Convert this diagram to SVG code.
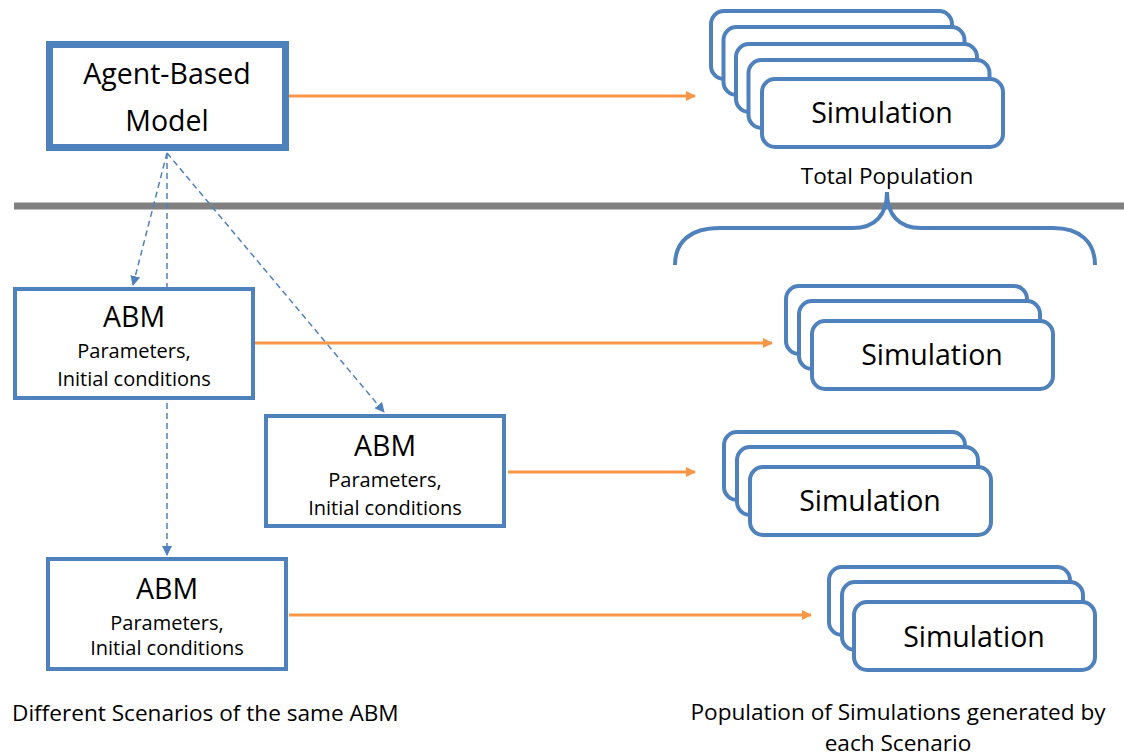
<svg xmlns="http://www.w3.org/2000/svg" width="1124" height="756" viewBox="0 0 1124 756">
  <defs>
    <style>
      text { font-family: "Open Sans", "Liberation Sans", sans-serif; fill: #000; text-anchor: middle; }
      .big { font-size: 28.5px; }
      .small { font-size: 20px; }
      .note { font-size: 22.6px; }
      .box { fill: #fff; stroke: #4F81BD; stroke-width: 4; }
      .sim { fill: #fff; stroke: #4F81BD; stroke-width: 4; }
      .flow { fill: none; stroke: #F79646; stroke-width: 3; }
      .dash { fill: none; stroke: #4F81BD; stroke-width: 1.5; stroke-dasharray: 6 4; }
    </style>
    <marker id="orangeHead" markerWidth="10" markerHeight="10" refX="9" refY="5" orient="auto" markerUnits="userSpaceOnUse">
      <path d="M0,0 L10,5 L0,10 Z" fill="#F79646"/>
    </marker>
    <marker id="blueHead" markerWidth="10" markerHeight="10" refX="9" refY="5" orient="auto" markerUnits="userSpaceOnUse">
      <path d="M0,0 L10,5 L0,10 Z" fill="#4F81BD"/>
    </marker>
  </defs>

  <rect width="1124" height="756" fill="#fff"/>

  <!-- divider between model level and scenario level -->
  <line x1="14" y1="206" x2="1124" y2="206" stroke="#808080" stroke-width="7"/>

  <!-- connectors -->
  <g id="connectors">
    <line class="dash" x1="167" y1="153" x2="133" y2="285" marker-end="url(#blueHead)"/>
    <line class="dash" x1="167" y1="153" x2="167" y2="555" marker-end="url(#blueHead)"/>
    <line class="dash" x1="167" y1="153" x2="384" y2="412" marker-end="url(#blueHead)"/>
    <line class="flow" x1="289" y1="96" x2="695" y2="96" marker-end="url(#orangeHead)"/>
    <line class="flow" x1="255" y1="343" x2="772" y2="343" marker-end="url(#orangeHead)"/>
    <line class="flow" x1="508" y1="472" x2="695" y2="472" marker-end="url(#orangeHead)"/>
    <line class="flow" x1="289" y1="615" x2="811" y2="615" marker-end="url(#orangeHead)"/>
  </g>

  <!-- main model -->
  <g id="agent-based-model">
    <rect x="49.5" y="44.5" width="236" height="103" fill="#fff" stroke="#4F81BD" stroke-width="7"/>
    <text class="big" x="167" y="84">Agent-Based</text>
    <text class="big" x="167" y="131">Model</text>
  </g>

  <!-- scenarios -->
  <g id="abm-scenario-1">
    <rect class="box" x="15" y="289" width="238" height="109"/>
    <text class="big" x="134" y="327">ABM</text>
    <text class="small" x="134" y="358">Parameters,</text>
    <text class="small" x="134" y="386">Initial conditions</text>
  </g>
  <g id="abm-scenario-2">
    <rect class="box" x="266" y="416" width="238" height="110"/>
    <text class="big" x="385" y="456">ABM</text>
    <text class="small" x="385" y="487">Parameters,</text>
    <text class="small" x="385" y="515">Initial conditions</text>
  </g>
  <g id="abm-scenario-3">
    <rect class="box" x="48" y="559" width="238" height="110"/>
    <text class="big" x="167" y="599">ABM</text>
    <text class="small" x="167" y="630">Parameters,</text>
    <text class="small" x="167" y="655">Initial conditions</text>
  </g>

  <!-- total population stack -->
  <g id="total-population">
    <rect class="sim" x="711" y="11" width="241" height="68" rx="13"/>
    <rect class="sim" x="723.5" y="27" width="241" height="68" rx="13"/>
    <rect class="sim" x="736" y="44" width="241" height="68" rx="13"/>
    <rect class="sim" x="748.5" y="60" width="241" height="68" rx="13"/>
    <rect class="sim" x="762" y="79" width="241" height="68" rx="13"/>
    <text class="big" x="882" y="123">Simulation</text>
    <text class="note" x="887" y="184">Total Population</text>
  </g>

  <!-- brace grouping scenario populations -->
  <path id="brace" d="M675,265 C675,242 690,228 720,228 L853,228 C875,228 887,215 887,192 C887,215 899,228 921,228 L1053,228 C1080,228 1095,242 1095,265" fill="none" stroke="#4F81BD" stroke-width="4"/>

  <g id="population-1">
    <rect class="sim" x="786" y="286" width="241" height="68" rx="13"/>
    <rect class="sim" x="799" y="301" width="241" height="68" rx="13"/>
    <rect class="sim" x="812" y="321" width="241" height="68" rx="13"/>
    <text class="big" x="932" y="365">Simulation</text>
  </g>
  <g id="population-2">
    <rect class="sim" x="724" y="432" width="241" height="68" rx="13"/>
    <rect class="sim" x="737" y="447" width="241" height="68" rx="13"/>
    <rect class="sim" x="750" y="467" width="241" height="68" rx="13"/>
    <text class="big" x="870" y="511">Simulation</text>
  </g>
  <g id="population-3">
    <rect class="sim" x="829" y="567" width="241" height="68" rx="13"/>
    <rect class="sim" x="842" y="582" width="241" height="68" rx="13"/>
    <rect class="sim" x="854" y="602" width="241" height="68" rx="13"/>
    <text class="big" x="974" y="647">Simulation</text>
  </g>

  <!-- captions -->
  <g id="captions">
    <text class="note" x="12" y="721" style="text-anchor:start">Different Scenarios of the same ABM</text>
    <text class="note" x="898" y="720">Population of Simulations generated by</text>
    <text class="note" x="898" y="751">each Scenario</text>
  </g>
</svg>
